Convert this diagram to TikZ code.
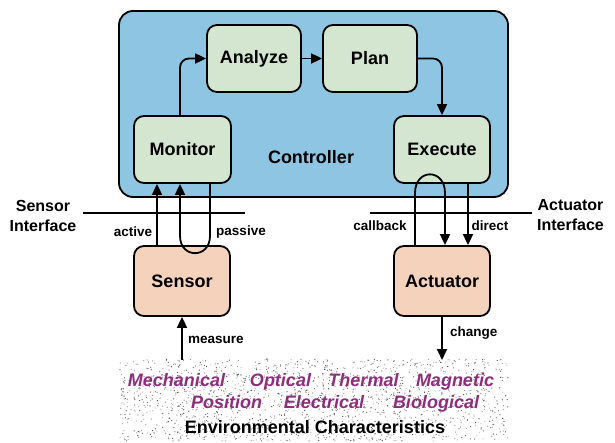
\documentclass[tikz,border=0pt]{standalone}
\usepackage{fontspec}
\setmainfont{Liberation Sans}
\usetikzlibrary{arrows.meta}
\definecolor{ctrlblue}{HTML}{8EC5E3}
\definecolor{mapegreen}{HTML}{D4E6CF}
\definecolor{devpeach}{HTML}{F5D2BC}
\definecolor{envpurple}{HTML}{8E2C7E}
\begin{document}
\begin{tikzpicture}[x=1pt,y=-1pt,
  box/.style={draw=black, line width=1.8pt, rounded corners=10pt, inner sep=0pt,
    font=\fontsize{18}{20}\selectfont\bfseries},
  mape/.style={box, fill=mapegreen, minimum height=67pt},
  dev/.style={box, fill=devpeach, minimum width=96pt, minimum height=70pt},
  arr/.style={line width=1.8pt, -{Triangle[length=11pt,width=10pt]}},
  lbl/.style={font=\fontsize{13.5}{15}\selectfont\bfseries, inner sep=0pt},
  iface/.style={font=\fontsize{16}{20}\selectfont\bfseries, align=center, inner sep=0pt},
  envword/.style={font=\fontsize{18}{20}\selectfont\bfseries\itshape, text=envpurple, anchor=base, inner sep=0pt},
  envtitle/.style={font=\fontsize{18}{20}\selectfont\bfseries, anchor=base, inner sep=0pt}
]
\useasboundingbox (0,0) rectangle (615,443);

% speckled environment area
\pgfmathsetseed{7}
\foreach \i in {1,...,1700} {
  \pgfmathsetmacro{\sx}{120+388*rnd}
  \pgfmathsetmacro{\sy}{359+82*rnd}
  \pgfmathsetmacro{\sg}{int(25+55*rnd)}
  \fill[black!\sg] (\sx,\sy) circle (0.6);
}

% controller
\node[box, fill=ctrlblue, rounded corners=14pt, minimum width=389pt, minimum height=186pt] (controller) at (313.5,104) {};
\node[font=\fontsize{18}{20}\selectfont\bfseries] (ctrllabel) at (311,157) {Controller};

% MAPE boxes
\node[mape, minimum width=97pt] (monitor) at (182.5,149.5) {Monitor};
\node[mape, minimum width=94pt] (analyze) at (254,58.5) {Analyze};
\node[mape, minimum width=94pt] (plan) at (370,58.5) {Plan};
\node[mape, minimum width=96pt] (execute) at (442,149.5) {Execute};

% devices
\node[dev] (sensor) at (182,281) {Sensor};
\node[dev] (actuator) at (442,281) {Actuator};

% loop arrows inside controller
\draw[arr, rounded corners=9pt] ([xshift=-2.5pt]monitor.north) |- (analyze.west);
\draw[arr] (analyze.east) -- (plan.west);
\draw[arr, rounded corners=9pt] (plan.east) -| (execute.north);

% interfaces
\coordinate (siL) at (83,213);
\coordinate (siR) at (245,213);
\coordinate (aiL) at (370,213);
\coordinate (aiR) at (532,213);
\draw[line width=1.2pt] (siL) -- (siR);
\draw[line width=1.2pt] (aiL) -- (aiR);
\node[iface] (silabel) at (43,216) {Sensor\\Interface};
\node[iface] (ailabel) at (570.5,215) {Actuator\\Interface};

% sensor side
\draw[arr] ([xshift=-25pt]sensor.north) -- ([xshift=-25.5pt]monitor.south);
\draw[arr] ([xshift=27.5pt]monitor.south) -- ++(0,52)
  .. controls +(0,23) and +(0,23) .. ++(-30,0) -- ([xshift=-2.5pt]monitor.south);
\node[lbl] (activelbl) at (133,232) {active};
\node[lbl] (passivelbl) at (241,232) {passive};

% actuator side
\draw[arr] ([xshift=-27pt]actuator.north) -- ++(0,-52)
  .. controls +(0,-25) and +(0,-25) .. ++(30,0) -- ([xshift=3pt]actuator.north);
\draw[arr] ([xshift=26pt]execute.south) -- ([xshift=26pt]actuator.north);
\node[lbl] (callbacklbl) at (380,226) {callback};
\node[lbl] (directlbl) at (490,226) {direct};

% environment
\coordinate (envS) at (182,360);
\coordinate (envA) at (442,360);
\draw[arr] (envS) -- (sensor.south);
\draw[arr] (actuator.south) -- (envA);
\node[lbl, anchor=west] (measuretxt) at (188,340) {measure};
\node[lbl, anchor=west] (changetxt) at (450,333) {change};

\node[envword] (w1) at (176.5,386) {Mechanical};
\node[envword] (w2) at (280.5,386) {Optical};
\node[envword] (w3) at (363.5,386) {Thermal};
\node[envword] (w4) at (455,386) {Magnetic};
\node[envword] (w5) at (226.5,408) {Position};
\node[envword] (w6) at (324,408) {Electrical};
\node[envword] (w7) at (436,408) {Biological};
\node[envtitle] (envt) at (315,433) {Environmental Characteristics};
\end{tikzpicture}
\end{document}
